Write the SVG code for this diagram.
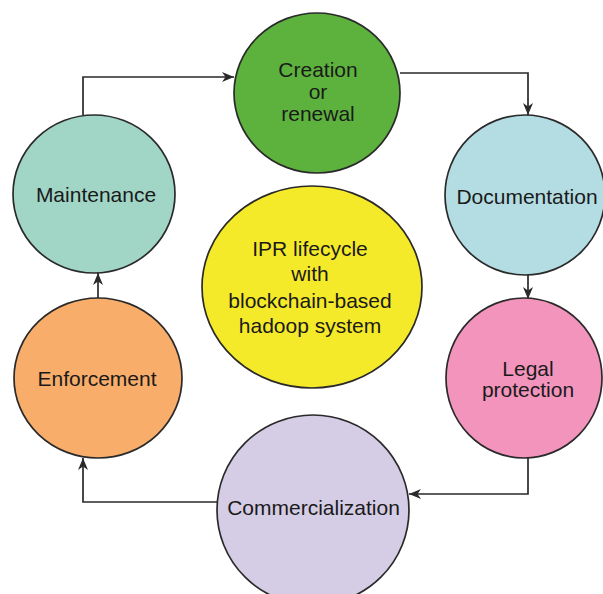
<svg xmlns="http://www.w3.org/2000/svg" width="603" height="594" viewBox="0 0 603 594">
  <style>
    .node { stroke: #2a2a2a; stroke-width: 1.7; }
    .lbl { font-family: "Liberation Sans", Arial, sans-serif; font-size: 21px; fill: #1a1a1a; text-anchor: middle; }
    .conn { fill: none; stroke: #2a2a2a; stroke-width: 1.7; }
  </style>
  <defs>
    <marker id="arrow" markerUnits="userSpaceOnUse" markerWidth="13" markerHeight="11" refX="12" refY="5.5" orient="auto">
      <path d="M0,0.5 L12,5.5 L0,10.5 L3.5,5.5 Z" fill="#2a2a2a"/>
    </marker>
  </defs>
  <rect width="603" height="594" fill="#ffffff"/>
  <g id="connectors">
    <path class="conn" d="M83,115 V77 H234" marker-end="url(#arrow)"/>
    <path class="conn" d="M400,73 H528 V115" marker-end="url(#arrow)"/>
    <path class="conn" d="M528,275 V299" marker-end="url(#arrow)"/>
    <path class="conn" d="M528,458 V494 H409" marker-end="url(#arrow)"/>
    <path class="conn" d="M218,502 H83 V458" marker-end="url(#arrow)"/>
    <path class="conn" d="M98,298 V273" marker-end="url(#arrow)"/>
  </g>
  <g id="node-creation">
    <ellipse class="node" cx="317" cy="93" rx="83" ry="80" fill="#5db23e"/>
    <text class="lbl" x="318" y="77">Creation</text>
    <text class="lbl" x="318" y="99">or</text>
    <text class="lbl" x="318" y="121">renewal</text>
  </g>
  <g id="node-documentation">
    <ellipse class="node" cx="525" cy="195" rx="80" ry="80" fill="#b3dde2"/>
    <text class="lbl" x="527" y="204">Documentation</text>
  </g>
  <g id="node-legal">
    <ellipse class="node" cx="524" cy="378" rx="78" ry="80" fill="#f394bd"/>
    <text class="lbl" x="528" y="376">Legal</text>
    <text class="lbl" x="528" y="397">protection</text>
  </g>
  <g id="node-commercialization">
    <ellipse class="node" cx="313" cy="510" rx="96" ry="95" fill="#d5cce6"/>
    <text class="lbl" x="313.5" y="515">Commercialization</text>
  </g>
  <g id="node-enforcement">
    <ellipse class="node" cx="98" cy="378" rx="84" ry="80" fill="#f8ad6b"/>
    <text class="lbl" x="97" y="386">Enforcement</text>
  </g>
  <g id="node-maintenance">
    <ellipse class="node" cx="94" cy="194" rx="81" ry="79" fill="#a1d6c7"/>
    <text class="lbl" x="96" y="202">Maintenance</text>
  </g>
  <g id="node-center">
    <ellipse class="node" cx="312" cy="287" rx="110" ry="101" fill="#f5ea29"/>
    <text class="lbl" x="310" y="256">IPR lifecycle</text>
    <text class="lbl" x="310" y="281">with</text>
    <text class="lbl" x="310" y="308">blockchain-based</text>
    <text class="lbl" x="310" y="333">hadoop system</text>
  </g>
</svg>
